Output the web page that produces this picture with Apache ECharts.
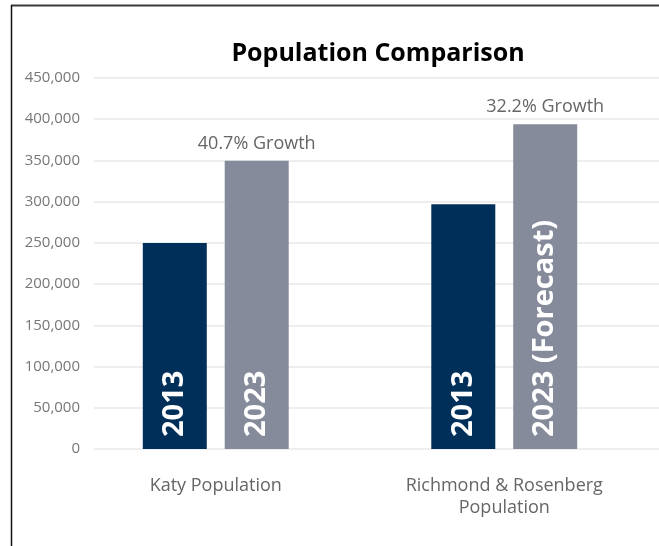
<!DOCTYPE html>
<html>
<head>
<meta charset="utf-8">
<script src="https://cdn.jsdelivr.net/npm/echarts@6/dist/echarts.min.js"></script>
<style>
html,body{margin:0;padding:0;background:#fff;}
#c{width:659px;height:546px;}
</style>
</head>
<body>
<div id="c"></div>
<script>
const categories = ['Katy Population', 'Richmond & Rosenberg\nPopulation'];
const values2013 = [250000, 297000];
const values2023 = [349500, 394000];
const growthOffset = [0, 0];
const labels2013 = ['2013', '2013'];
const labels2023 = ['2023', '2023 (Forecast)'];
const growthLabels = ['40.7% Growth', '32.2% Growth'];
const yTicks = { min: 0, max: 450000, interval: 50000 };

const chart = echarts.init(document.getElementById('c'));
const FONT = '"Open Sans", sans-serif';

function inside(labels) {
  return {
    show: true,
    position: 'insideBottom',
    rotate: 90,
    align: 'left',
    verticalAlign: 'middle',
    distance: 12,
    color: '#fff',
    fontFamily: FONT,
    fontWeight: 'bold',
    fontSize: 29,
    formatter: p => labels[p.dataIndex]
  };
}

chart.setOption({
  animation: false,
  title: {
    text: 'Population Comparison',
    left: 373,
    textAlign: 'center',
    top: 36,
    textStyle: { fontFamily: FONT, fontWeight: 'bold', fontSize: 25, color: '#000' }
  },
  graphic: [
    { type: 'line', shape: { x1: 11, y1: 5.5, x2: 659, y2: 5.5 }, style: { stroke: '#3a3a3a', lineWidth: 2 } },
    { type: 'line', shape: { x1: 11.5, y1: 5, x2: 11.5, y2: 546 }, style: { stroke: '#111', lineWidth: 1.5 } }
  ],
  grid: [
    { left: 94, right: 0, top: 78, bottom: 97 },
    { left: 71.5, right: 10.5, top: 78, bottom: 97 }
  ],
  xAxis: [
    { type: 'category', gridIndex: 0, data: categories, show: false },
    {
      type: 'category', gridIndex: 1, data: categories,
      axisLine: { show: false }, axisTick: { show: false },
      axisLabel: { margin: 26, color: '#666', fontFamily: FONT, fontSize: 18, lineHeight: 22 }
    }
  ],
  yAxis: [
    {
      type: 'value', gridIndex: 0, min: yTicks.min, max: yTicks.max, interval: yTicks.interval,
      axisLine: { show: false }, axisTick: { show: false },
      axisLabel: {
        margin: 14, color: '#777', fontFamily: FONT, fontSize: 15,
        formatter: v => v.toLocaleString('en-US')
      },
      splitLine: { lineStyle: { color: '#e8e8e8', width: 1.5 } }
    },
    {
      type: 'value', gridIndex: 1, min: yTicks.min, max: yTicks.max, interval: yTicks.interval,
      show: false, splitLine: { show: false }
    }
  ],
  series: [
    {
      type: 'bar', name: '2013', xAxisIndex: 1, yAxisIndex: 1,
      data: values2013, barWidth: 64, barGap: '28%',
      itemStyle: { color: '#002f5a' },
      label: inside(labels2013)
    },
    {
      type: 'bar', name: '2023', xAxisIndex: 1, yAxisIndex: 1, stack: 'b2023',
      data: values2023, barWidth: 64, barGap: '28%',
      itemStyle: { color: '#868b9b' },
      label: inside(labels2023)
    },
    {
      type: 'bar', name: 'growth', xAxisIndex: 1, yAxisIndex: 1, stack: 'b2023',
      data: growthOffset, barWidth: 64, barGap: '28%',
      itemStyle: { color: 'transparent' },
      silent: true,
      label: {
        show: true, position: 'top', distance: 8,
        color: '#666', fontFamily: FONT, fontSize: 18,
        formatter: p => growthLabels[p.dataIndex]
      }
    }
  ]
});
</script>
</body>
</html>
